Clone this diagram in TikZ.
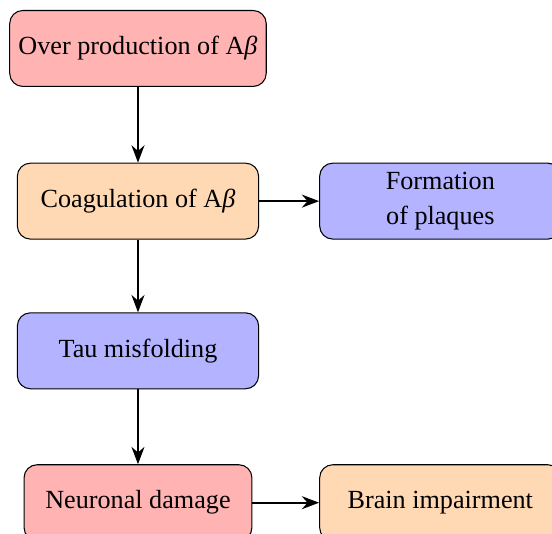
\documentclass[tikz,border=0pt]{standalone}
\usepackage{fontspec}
\setmainfont{Liberation Serif}
\usepackage{xcolor}
\usetikzlibrary{shapes.geometric, arrows.meta, positioning}
\definecolor{pinkred}{RGB}{255, 179, 179}
\definecolor{peach}{RGB}{255, 217, 179}
\definecolor{lilac}{RGB}{179, 179, 255}

\begin{document}
\begin{tikzpicture}[
  stage/.style={draw=black, rounded corners=5pt, minimum width=3.24cm, minimum height=1.02cm, text centered, align=center},
  arrow/.style={-Stealth, thick, color=black}
]
  \useasboundingbox (-1.853,0.651) rectangle (5.56,-6.52);

  \node[stage, fill=pinkred] (over)   at (0,0)       {Over production of A{\itshape β}};
  \node[stage, fill=peach]   (coag)   at (0,-2.05)   {Coagulation of A{\itshape β}};
  \node[stage, fill=lilac]   (plaque) at (4.06,-2.05) {Formation\\[1pt]of plaques};
  \node[stage, fill=lilac]   (tau)    at (0,-4.06)   {Tau misfolding};
  \node[stage, fill=pinkred, minimum width=3.06cm] (neuron) at (0,-6.10) {Neuronal damage};
  \node[stage, fill=peach]   (brain)  at (4.06,-6.10) {Brain impairment};

  % Main chain
  \draw[arrow] (over.south) -- (coag.north);
  \draw[arrow] (coag.south) -- (tau.north);
  \draw[arrow] (tau.south) -- (neuron.north);
  % Side effects
  \draw[arrow] (coag.east) -- (plaque.west);
  \draw[arrow] (neuron.east) -- (brain.west);
\end{tikzpicture}
\end{document}
